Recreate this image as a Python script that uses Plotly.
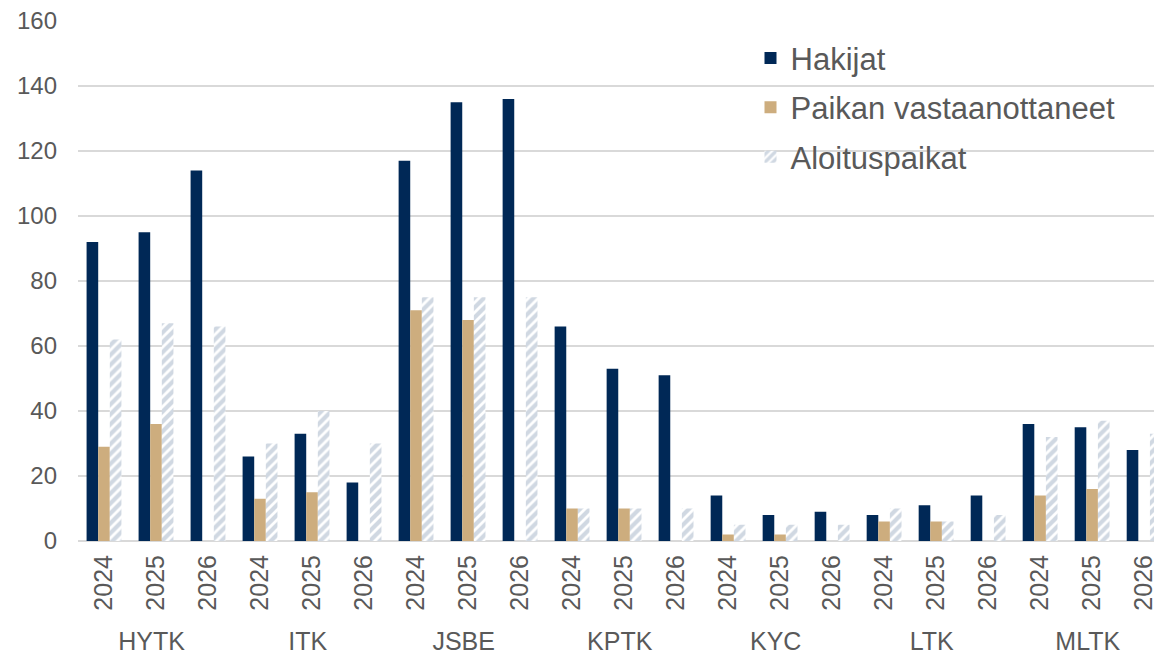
import plotly.graph_objects as go

groups = ["HYTK", "ITK", "JSBE", "KPTK", "KYC", "LTK", "MLTK"]
years = ["2024", "2025", "2026"]

hakijat = [92, 95, 114, 26, 33, 18, 117, 135, 136, 66, 53, 51, 14, 8, 9, 8, 11, 14, 36, 35, 28]
paikan = [29, 36, None, 13, 15, None, 71, 68, None, 10, 10, None, 2, 2, None, 6, 6, None, 14, 16, None]
aloitus = [62, 67, 66, 30, 40, 30, 75, 75, 75, 10, 10, 10, 5, 5, 5, 10, 6, 8, 32, 37, 33]

x_outer = [g for g in groups for _ in years]
x_inner = [y for _ in groups for y in years]
x = [x_outer, x_inner]

fig = go.Figure()
fig.add_trace(go.Bar(x=x, y=hakijat, name="Hakijat", marker=dict(color="#002856", line=dict(width=0)),
                     legendgroup="a"))
fig.add_trace(go.Bar(x=x, y=paikan, name="Paikan vastaanottaneet", marker=dict(color="#CDAD7E", line=dict(width=0)),
                     legendgroup="b"))
fig.add_trace(go.Bar(x=x, y=aloitus, name="Aloituspaikat",
                     marker=dict(color="white", line=dict(width=0),
                                 pattern=dict(shape="/", fgcolor="#A2B2C6", bgcolor="white", size=7, solidity=0.6)),
                     legendgroup="c"))

fig.update_layout(
    width=1154, height=659,
    margin=dict(l=78, r=0, t=21, b=118),
    paper_bgcolor="white", plot_bgcolor="white",
    barmode="group", bargap=0.33, bargroupgap=0,
    font=dict(family="Liberation Sans, Arial, sans-serif", color="#595959"),
    legend=dict(x=0.625, y=0.98, xanchor="left", yanchor="top", font=dict(size=31, color="#595959"),
                traceorder="grouped", tracegroupgap=6, bgcolor="rgba(0,0,0,0)",
                itemwidth=30),
    showlegend=True,
)
fig.update_yaxes(range=[0, 160], dtick=20, showgrid=True, gridcolor="#D9D9D9", gridwidth=2,
                 zeroline=True, zerolinecolor="#D9D9D9", zerolinewidth=2, automargin=False,
                 tickfont=dict(size=24, color="#595959"), ticks="", ticklabelstandoff=20, showline=False)
fig.update_xaxes(type="multicategory", range=[-0.5, 20.19], tickangle=-90, showdividers=False, automargin=False,
                 tickfont=dict(size=25, color="#595959"), ticks="", ticklabelstandoff=8,
                 showline=False, showgrid=False)

fig.write_html("out.html", config={"displayModeBar": False},
               post_script="document.body.style.margin='0px';document.body.style.overflow='hidden';")
